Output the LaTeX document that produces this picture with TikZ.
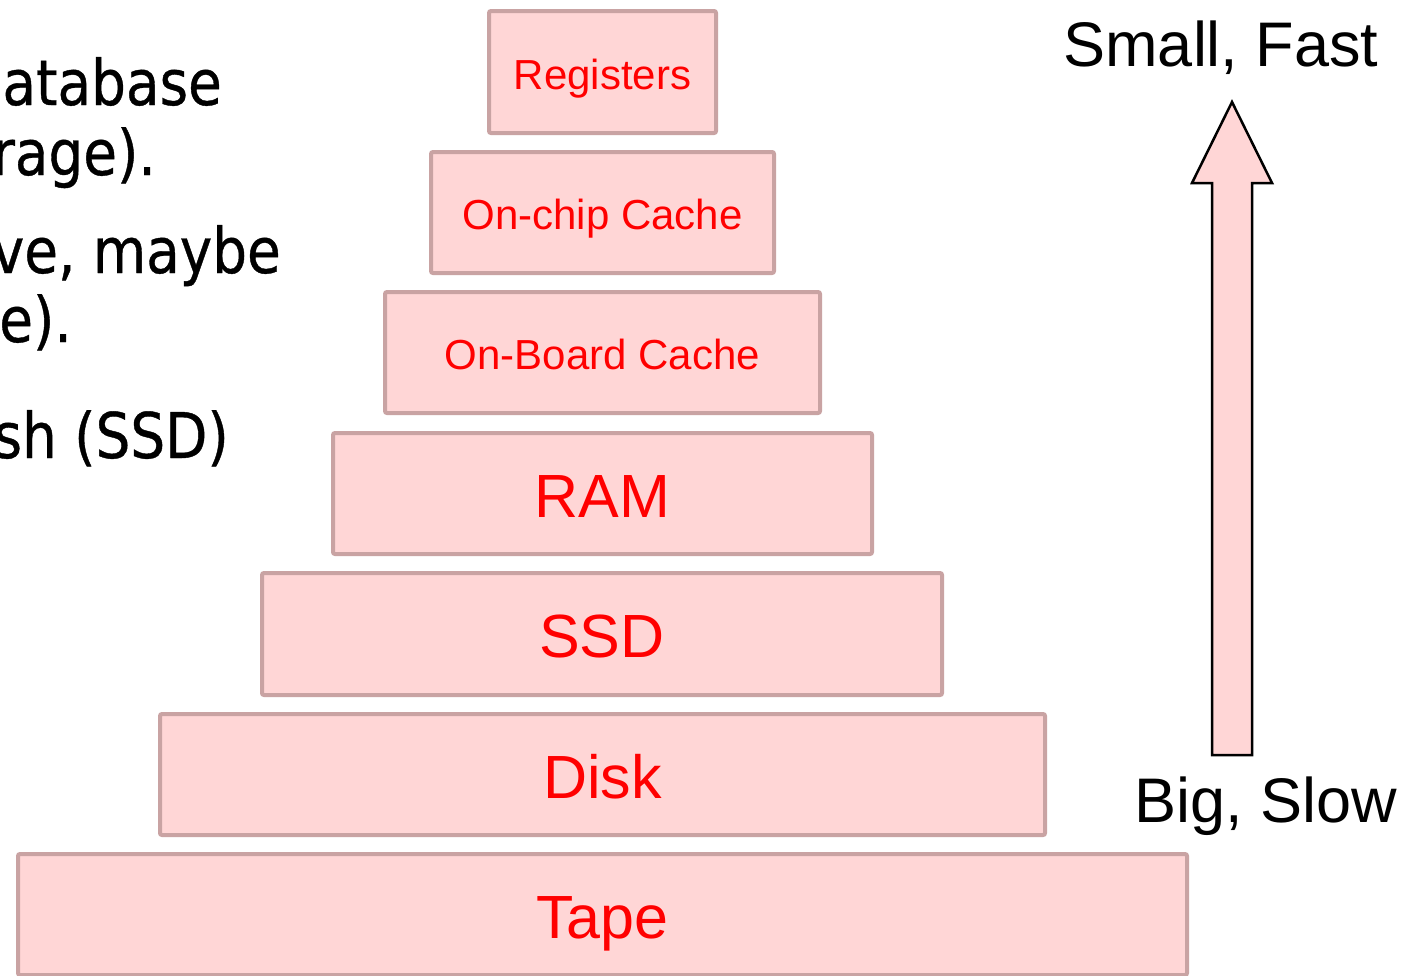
\documentclass[tikz,border=0pt]{standalone}
\usepackage{fontspec}
\setmainfont{Liberation Sans}
\newfontfamily\leftfont{DejaVu Sans}[FakeStretch=0.87,FakeBold=0.6]
\definecolor{tierfill}{HTML}{FFD6D6}
\definecolor{tierline}{HTML}{C9A3A3}
\definecolor{tiertext}{HTML}{FF0000}
\begin{document}
\begin{tikzpicture}[x=1pt,y=-1pt,
  tier/.style={draw=tierline, fill=tierfill, line width=4pt, rounded corners=2pt,
    inner sep=0pt, outer sep=0pt, anchor=center},
  tiertxt/.style={text=tiertext, inner sep=0pt, text depth=0pt, anchor=center},
  small/.style={font=\fontsize{42}{50}\selectfont, text height=30pt},
  big/.style={font=\fontsize{61}{70}\selectfont, text height=43.7pt},
  sidelabel/.style={font=\fontsize{63}{72}\selectfont, anchor=base, inner sep=0pt},
  lefttext/.style={font=\leftfont\fontsize{63}{72}\selectfont, anchor=base east, inner sep=0pt}]
\clip (0,0) rectangle (1402,975);
\fill[white] (0,0) rectangle (1402,975);

% left clipped text
\node[lefttext] (l1) at (222,105) {atabase};
\node[lefttext] (l2) at (156,175) {rage).};
\node[lefttext] (l3) at (281,273) {ve, maybe};
\node[lefttext] (l4) at (72,342) {e).};
\node[lefttext] (l5) at (229,458) {sh (SSD)};

% pyramid tiers
\node[tier, minimum width=227pt, minimum height=122pt] (reg) at (602.5,72) {};
\node[tier, minimum width=343pt, minimum height=121pt] (chip) at (602.5,212.5) {};
\node[tier, minimum width=435pt, minimum height=121pt] (board) at (602.5,352.5) {};
\node[tier, minimum width=539pt, minimum height=121pt] (ram) at (602.5,493.5) {};
\node[tier, minimum width=680pt, minimum height=122pt] (ssd) at (602,634) {};
\node[tier, minimum width=885pt, minimum height=121pt] (disk) at (602.5,774.5) {};
\node[tier, minimum width=1169pt, minimum height=121pt] (tape) at (602.5,914.5) {};

\node[tiertxt, small] (regt) at ([yshift=-2pt]reg.center) {Registers};
\node[tiertxt, small] (chipt) at ([yshift=-2pt]chip.center) {On-chip Cache};
\node[tiertxt, small] (boardt) at ([yshift=-2pt]board.center) {On-Board Cache};
\node[tiertxt, big] (ramt) at ([yshift=-2pt]ram.center) {RAM};
\node[tiertxt, big] (ssdt) at ([yshift=-2pt]ssd.center) {SSD};
\node[tiertxt, big] (diskt) at ([yshift=-2pt]disk.center) {Disk};
\node[tiertxt, big] (tapet) at ([yshift=-2pt]tape.center) {Tape};

% arrow
\draw[fill=tierfill, draw=black, line width=2.5pt, line join=miter]
  (1212,755) -- (1212,183) -- (1192,183) -- (1232,102) -- (1272,183)
  -- (1252,183) -- (1252,755) -- cycle;

\node[sidelabel] (fast) at (1221,66) {Small, Fast};
\node[sidelabel] (slow) at (1266,822) {Big, Slow};
\end{tikzpicture}
\end{document}
